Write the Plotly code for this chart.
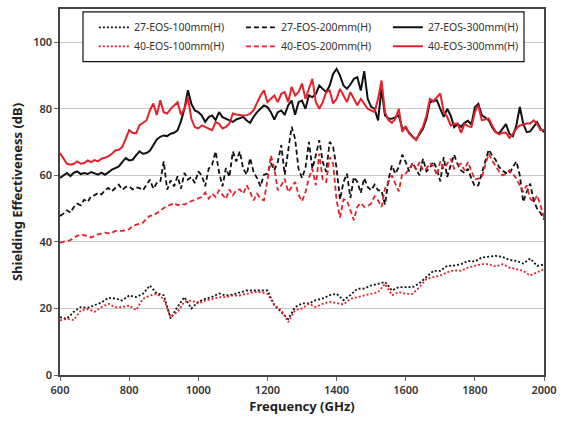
import plotly.graph_objects as go

# Frequency grids (GHz)
freq_fine = list(range(600, 2001, 10))
freq_coarse = list(range(600, 2001, 20))

# 27-EOS-300mm(H), black solid
se_27_300 = [
    59.2, 60.0, 60.7, 59.8, 60.8, 61.2, 60.4, 60.7, 60.4, 61.0,
    60.7, 60.2, 60.8, 60.2, 60.9, 61.7, 62.2, 62.7, 64.0, 65.2,
    64.5, 64.7, 66.0, 67.2, 66.5, 66.7, 67.4, 69.0, 70.8, 71.6,
    72.0, 71.8, 72.5, 72.8, 73.5, 76.3, 80.0, 85.6, 81.5, 79.5,
    79.0, 78.0, 76.1, 77.5, 78.0, 76.6, 79.0, 77.5, 77.0, 76.4,
    76.1, 76.8, 77.2, 77.6, 76.5, 75.8, 77.6, 79.0, 80.0, 81.0,
    80.5, 79.0, 76.8, 79.0, 79.5, 78.2, 81.0, 82.5, 78.2, 82.0,
    82.5, 80.0, 84.0, 83.5, 84.5, 87.0, 86.0, 85.0, 87.0, 90.5,
    92.0, 90.0, 87.0, 86.0, 87.3, 89.0, 89.5, 85.5, 91.3, 83.0,
    80.6, 80.0, 76.5, 86.0, 78.0, 77.1, 77.0, 77.5, 78.0, 74.1,
    74.3, 72.8, 71.6, 70.8, 72.4, 74.0, 77.0, 82.0, 82.3, 82.6,
    80.0, 77.6, 80.0, 78.0, 74.5, 75.4, 74.6, 75.8, 76.4, 75.3,
    80.5, 81.5, 78.1, 77.3, 76.6, 74.5, 73.0, 72.6, 74.0, 75.4,
    72.5, 71.8, 75.0, 80.6, 75.5, 73.0, 73.2, 74.6, 76.0, 74.0,
    73.0,
]

# 40-EOS-300mm(H), red solid
se_40_300 = [
    66.7, 65.0, 63.5, 63.2, 63.5, 64.2, 63.5, 63.7, 64.5, 64.0,
    64.6, 64.2, 65.0, 65.3, 65.7, 66.5, 67.5, 67.7, 68.5, 71.0,
    73.6, 72.8, 72.6, 75.1, 75.8, 76.5, 79.5, 81.6, 78.1, 82.6,
    79.0, 78.6, 80.0, 81.0, 82.0, 78.2, 80.0, 83.4, 77.0, 74.5,
    74.1, 75.0, 74.6, 74.0, 73.6, 76.0, 75.5, 74.1, 74.6, 75.5,
    78.6, 78.3, 78.1, 78.0, 78.1, 78.5, 79.6, 82.0, 84.0, 85.6,
    82.0, 83.0, 84.0, 82.0, 84.5, 85.0, 82.0, 86.6, 84.0, 85.0,
    87.6, 83.0, 86.0, 89.0, 82.0, 80.0, 82.0, 85.0, 85.5, 81.6,
    83.0, 86.0, 84.0, 82.0, 85.0, 83.0, 81.1, 83.0, 81.5, 80.0,
    79.5, 79.1, 83.0, 88.5, 79.0, 76.6, 75.8, 77.0, 80.0, 73.1,
    74.8, 72.5, 71.5, 70.6, 72.8, 74.6, 78.0, 83.0, 82.3, 83.5,
    84.6, 79.0, 77.6, 75.0, 75.5, 75.6, 72.8, 75.5, 74.8, 74.5,
    79.0, 81.0, 76.6, 76.8, 77.1, 75.0, 73.1, 72.3, 72.8, 72.8,
    71.3, 72.5, 74.0, 75.0, 75.3, 75.6, 75.6, 76.5, 75.5, 73.6,
    73.6,
]

# 27-EOS-200mm(H), black dashed
se_27_200 = [
    47.8, 48.5, 49.5, 48.8, 50.5, 51.5, 51.0, 52.7, 52.0, 53.7,
    54.0, 54.7, 54.3, 55.5, 56.2, 55.2, 56.2, 57.2, 55.7, 56.5,
    56.7, 55.8, 56.4, 56.2, 55.5, 57.0, 58.7, 56.0, 57.7, 58.0,
    64.2, 55.7, 58.5, 56.7, 59.7, 56.0, 60.7, 58.7, 59.5, 57.7,
    61.2, 60.0, 56.7, 62.0, 63.2, 67.2, 61.0, 56.7, 62.2, 59.5,
    67.2, 64.2, 67.2, 62.0, 60.2, 65.2, 61.0, 59.2, 56.7, 60.2,
    60.5, 63.7, 61.5, 64.0, 69.1, 60.2, 68.0, 74.6, 71.0, 62.0,
    59.2, 62.2, 70.1, 62.0, 66.0, 70.6, 64.0, 61.0, 70.1, 68.6,
    62.2, 52.7, 58.0, 60.5, 53.2, 59.5, 58.0, 54.7, 59.2, 56.5,
    55.5, 57.2, 55.5, 55.5, 51.2, 58.7, 63.0, 60.5, 62.5, 66.2,
    64.0, 61.2, 63.8, 62.0, 60.0, 65.0, 61.2, 62.2, 64.2, 62.0,
    58.2, 65.5, 59.5, 63.0, 66.2, 63.4, 61.5, 60.7, 62.0, 59.0,
    56.7, 57.0, 60.5, 63.7, 67.7, 66.0, 64.7, 62.5, 61.4, 60.7,
    60.5, 62.5, 64.2, 60.0, 52.0, 55.0, 57.5, 52.5, 50.0, 48.7,
    46.7,
]

# 40-EOS-200mm(H), red dashed
se_40_200 = [
    39.8, 40.0, 40.3, 40.5, 41.3, 41.8, 42.3, 42.0, 41.8, 41.3,
    41.8, 42.3, 42.5, 42.8, 42.6, 42.7, 43.3, 43.2, 43.3, 43.5,
    43.8, 44.8, 45.2, 45.5, 45.8, 47.0, 47.8, 48.0, 48.6, 49.3,
    50.2, 50.8, 51.2, 51.7, 51.0, 51.5, 51.2, 51.8, 52.2, 52.7,
    53.2, 53.5, 54.8, 53.0, 54.5, 53.5, 55.5, 54.0, 52.9, 55.8,
    54.0, 55.5, 55.8, 54.5, 57.0, 55.0, 52.5, 54.5, 53.0, 52.5,
    58.5, 66.0, 62.0, 55.5, 57.0, 59.0, 55.0, 56.5, 58.0, 54.2,
    52.2, 55.0, 59.2, 62.0, 57.0, 66.5, 58.5, 58.0, 65.5, 63.5,
    52.5, 47.3, 52.8, 52.5, 49.5, 46.5, 50.5, 51.7, 50.5, 50.8,
    51.5, 53.7, 52.5, 50.5, 56.0, 58.0, 60.0, 57.5, 55.2, 60.5,
    60.5, 62.0, 63.5, 61.7, 64.0, 61.5, 62.0, 63.7, 62.8, 60.0,
    64.2, 62.0, 63.5, 65.0, 62.0, 63.0, 63.5, 61.5, 64.0, 61.5,
    58.7, 59.0, 59.3, 63.0, 66.5, 64.5, 62.7, 61.2, 60.0, 60.5,
    61.5, 60.5, 59.0, 57.2, 55.0, 57.0, 53.0, 52.0, 54.0, 51.0,
    47.3,
]

# 27-EOS-100mm(H), black dotted
se_27_100 = [
    17.4, 16.9, 19.0, 20.4, 20.2, 20.9, 21.8, 23.2, 23.0, 22.4,
    23.9, 23.4, 24.4, 26.9, 24.5, 24.0, 17.0, 20.5, 23.4, 20.0,
    22.0, 22.9, 23.5, 24.5, 23.9, 24.2, 24.8, 25.4, 25.4, 25.4,
    25.4, 21.0, 19.0, 16.8, 20.4, 21.5, 21.5, 22.5, 23.0, 24.0,
    24.4, 22.5, 24.0, 25.9, 26.0, 26.9, 27.4, 28.0, 25.4, 26.4,
    26.4, 26.4, 27.6, 29.5, 31.3, 31.3, 32.8, 32.9, 33.3, 34.3,
    34.1, 35.3, 35.5, 35.8, 35.5, 34.6, 34.3, 33.5, 35.0, 32.8,
    33.2,
]

# 40-EOS-100mm(H), red dotted
se_40_100 = [
    16.4, 16.9, 16.5, 19.4, 19.8, 19.0, 20.4, 21.4, 20.4, 20.4,
    20.9, 19.5, 22.9, 23.9, 24.4, 22.8, 17.4, 19.0, 22.0, 22.4,
    21.5, 22.4, 22.8, 23.4, 23.4, 23.9, 23.9, 24.4, 24.9, 24.9,
    24.4, 21.0, 19.5, 15.9, 19.5, 20.0, 21.4, 20.4, 21.4, 22.0,
    21.5, 21.2, 22.9, 23.4, 23.9, 24.4, 24.9, 27.4, 24.0, 24.9,
    24.4, 24.4, 26.4, 28.9, 29.4, 29.9, 30.9, 31.5, 31.3, 32.3,
    32.8, 33.3, 33.3, 32.6, 33.3, 32.3, 31.8, 31.3, 29.9, 30.8,
    31.8,
]

BLACK = "#111111"
RED = "#e3232b"
DOT = "2px,2px"
DASH = "5px,3px"

# Legend order: row 1 = 27-EOS series, row 2 = 40-EOS series
series = [
    ("27-EOS-100mm(H)", freq_coarse, se_27_100, BLACK, DOT, 1.8),
    ("27-EOS-200mm(H)", freq_fine, se_27_200, BLACK, DASH, 1.8),
    ("27-EOS-300mm(H)", freq_fine, se_27_300, BLACK, "solid", 2.0),
    ("40-EOS-100mm(H)", freq_coarse, se_40_100, RED, DOT, 1.8),
    ("40-EOS-200mm(H)", freq_fine, se_40_200, RED, DASH, 1.8),
    ("40-EOS-300mm(H)", freq_fine, se_40_300, RED, "solid", 2.0),
]

fig = go.Figure()
for name, fx, fy, color, dash, width in series:
    fig.add_trace(go.Scatter(
        x=fx, y=fy, mode="lines", name=name,
        line=dict(color=color, dash=dash, width=width),
    ))

axis_font = dict(family="Noto Sans", size=11, color="#333333", weight=600)
title_font = dict(family="Noto Sans", size=13, color="#222222", weight="bold")

# White framed box behind the legend entries
fig.add_shape(
    type="rect", xref="paper", yref="paper",
    x0=0.0475, x1=0.9587, y0=0.856, y1=0.992,
    fillcolor="white", line=dict(color="#111111", width=1.2),
    layer="above",
)

fig.update_layout(
    width=564, height=423,
    margin=dict(l=60, r=20, t=7, b=48),
    paper_bgcolor="white", plot_bgcolor="white",
    showlegend=True,
    legend=dict(
        orientation="h",
        x=0.07, xanchor="left",
        y=0.924, yanchor="middle",
        entrywidth=102, entrywidthmode="pixels",
        bgcolor="rgba(0,0,0,0)", borderwidth=0,
        font=dict(family="Noto Sans", size=10.5, color="#333333"),
        traceorder="normal",
        itemwidth=30,
    ),
    xaxis=dict(
        range=[600, 2000], tickvals=[600, 800, 1000, 1200, 1400, 1600, 1800, 2000],
        showgrid=False, zeroline=False,
        showline=True, linecolor="#444444", linewidth=1.5, mirror=True,
        ticks="outside", ticklen=4, tickcolor="#666666",
        tickfont=axis_font,
        title=dict(text="Frequency (GHz)", font=title_font, standoff=6),
    ),
    yaxis=dict(
        range=[0, 110], tickvals=[0, 20, 40, 60, 80, 100],
        showgrid=True, gridcolor="#c8c8c8", gridwidth=1,
        zeroline=False,
        showline=True, linecolor="#444444", linewidth=1.5, mirror=True,
        ticks="outside", ticklen=4, tickcolor="#666666",
        tickfont=axis_font,
        title=dict(text="Shielding Effectiveness (dB)", font=title_font, standoff=8),
    ),
)

fig.write_html("out.html")
